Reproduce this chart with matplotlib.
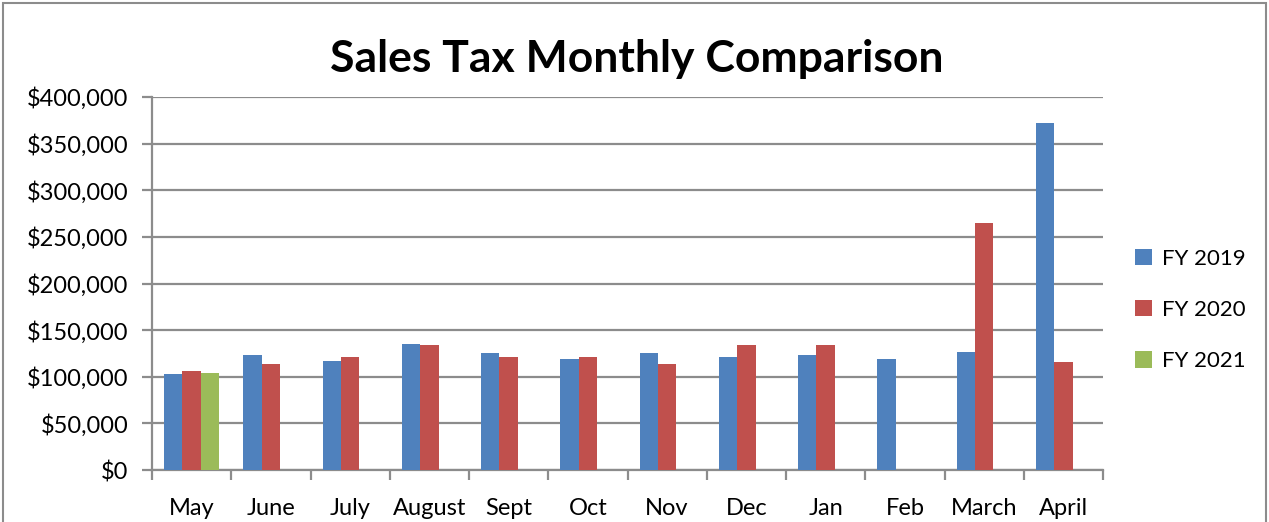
import numpy as np
import matplotlib.pyplot as plt
from matplotlib.patches import Rectangle
from matplotlib.ticker import FuncFormatter

months = ['May', 'June', 'July', 'August', 'Sept', 'Oct', 'Nov', 'Dec', 'Jan', 'Feb', 'March', 'April']
fy2019 = [103000, 123000, 116500, 135500, 125000, 118600, 125000, 121000, 123000, 118600, 127000, 372000]
fy2020 = [105700, 114000, 121000, 133700, 121000, 121000, 114000, 133700, 133700, np.nan, 264500, 116000]
fy2021 = [103500] + [np.nan] * 11

plt.rcParams['font.family'] = ['Lato', 'DejaVu Sans']
grid_c = '#8c8c8c'

fig = plt.figure(figsize=(12.69, 5.22), dpi=100)
ax = fig.add_axes([152 / 1269, 52 / 522, 951 / 1269, 373 / 522])

x = np.arange(len(months))
w = 0.231
ax.bar(x - w, fy2019, w, color='#4F81BD', label='FY 2019', zorder=3)
ax.bar(x, fy2020, w, color='#C0504D', label='FY 2020', zorder=3)
ax.bar(x + w, fy2021, w, color='#9BBB59', label='FY 2021', zorder=3)

ax.set_xlim(-0.5, len(months) - 0.5)
ax.set_ylim(0, 400000)
ax.set_yticks(np.arange(0, 400001, 50000))
ax.yaxis.set_major_formatter(FuncFormatter(lambda v, p: '${:,.0f}'.format(v)))
ax.grid(axis='y', color=grid_c, linewidth=1.6, zorder=0)

ax.set_xticks(x)
ax.set_xticklabels(months)
ax.set_xticks(np.arange(-0.5, len(months)), minor=True)
ax.tick_params(axis='x', which='major', length=0, pad=20, labelsize=17)
ax.tick_params(axis='x', which='minor', length=7, width=1.6, color=grid_c)
ax.tick_params(axis='y', length=7, width=1.6, color=grid_c, labelsize=17, pad=10)

for s in ['top', 'right']:
    ax.spines[s].set_visible(False)
for s in ['left', 'bottom']:
    ax.spines[s].set_color(grid_c)
    ax.spines[s].set_linewidth(1.6)

fig.text(0.502, 0.887, 'Sales Tax Monthly Comparison', ha='center', va='center',
         fontsize=32, fontweight='bold')

fig.legend(loc='center left', bbox_to_anchor=(1115 / 1269, 212 / 522), frameon=False,
           fontsize=16, handlelength=0.75, handleheight=0.75, labelspacing=1.4,
           handletextpad=0.45)

fig.patches.append(Rectangle((3 / 1269, -0.1), 1263 / 1269, 1.1 - 3 / 522, transform=fig.transFigure,
                             fill=False, edgecolor='#8c8c8c', linewidth=1.5))

fig.savefig('out.png', dpi=100)
